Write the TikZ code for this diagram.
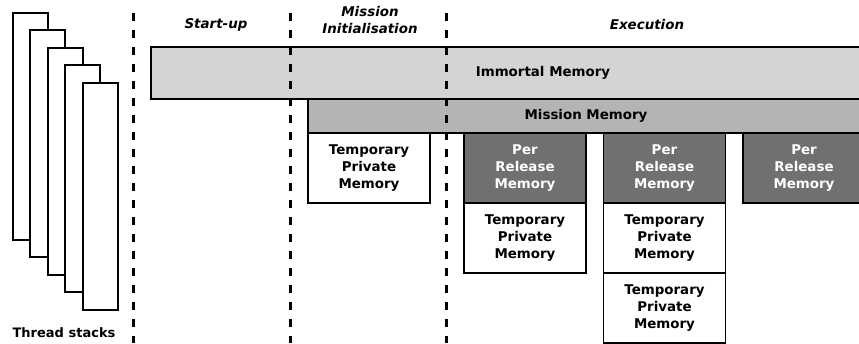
\documentclass[tikz,border=0pt]{standalone}
\usepackage{fontspec}
\setmainfont{DejaVu Sans}
\usetikzlibrary{positioning,calc}
\definecolor{immortalgrey}{HTML}{D4D4D4}
\definecolor{missiongrey}{HTML}{B4B4B4}
\definecolor{releasegrey}{HTML}{707070}
\tikzset{
  membox/.style={draw,line width=1.5pt,inner sep=0pt,outer sep=0pt,align=center,
    font=\fontsize{13.4}{17}\selectfont\bfseries},
  temppriv/.style={membox,fill=white,minimum width=122pt,minimum height=70pt},
  perrel/.style={membox,fill=releasegrey,text=white,minimum width=122pt,minimum height=70pt},
  phase/.style={font=\fontsize{13.4}{17}\selectfont\bfseries\itshape,align=center},
  stackbox/.style={draw,line width=2pt,fill=white,minimum width=35pt,minimum height=227pt,
    inner sep=0pt,anchor=north west},
  phasesep/.style={line width=3pt,dash pattern=on 8pt off 9pt}
}
\begin{document}
\begin{tikzpicture}[x=1pt,y=-1pt]
\useasboundingbox (0,0) rectangle (859,343);
\clip (0,0) rectangle (859,343);

% thread stacks
\foreach \i in {0,...,4}
  \node[stackbox] (stack\i) at ({11.7+17.5*\i},{11.7+17.5*\i}) {};
\node[font=\fontsize{13}{17}\selectfont\bfseries] (stacks) at (64,333) {Thread stacks};

% phase separators
\coordinate (sepA top) at (133,13);  \coordinate (sepA bot) at (133,343);
\coordinate (sepB top) at (290,13);  \coordinate (sepB bot) at (290,343);
\coordinate (sepC top) at (446,13);  \coordinate (sepC bot) at (446,343);

% memory areas
\node[membox,fill=immortalgrey,minimum width=784pt,minimum height=52pt] (immortal) at (543,73) {Immortal Memory};
\node[membox,fill=missiongrey,minimum width=556pt,minimum height=34pt] (mission) at (586,116) {Mission Memory};
\node[temppriv] (tpm0) at (369,168) {Temporary\\Private\\Memory};

\node[perrel] (prm1) at (525,168) {Per\\Release\\Memory};
\node[temppriv,below=0pt of prm1] (tpm1) {Temporary\\Private\\Memory};

\node[perrel] (prm2) at (664.5,168) {Per\\Release\\Memory};
\node[temppriv,below=0pt of prm2] (tpm2) {Temporary\\Private\\Memory};
\node[temppriv,below=0pt of tpm2] (tpm3) {Temporary\\Private\\Memory};

\node[perrel] (prm3) at (804,168) {Per\\Release\\Memory};

\draw[phasesep] (sepA top) -- (sepA bot);
\draw[phasesep] (sepB top) -- (sepB bot);
\draw[phasesep] (sepC top) -- (sepC bot);

% phase titles
\node[phase] (startup) at (216,25) {Start-up};
\node[phase] (missinit) at (370,20) {Mission\\Initialisation};
\node[phase] (exec) at (647,25) {Execution};
\end{tikzpicture}
\end{document}
